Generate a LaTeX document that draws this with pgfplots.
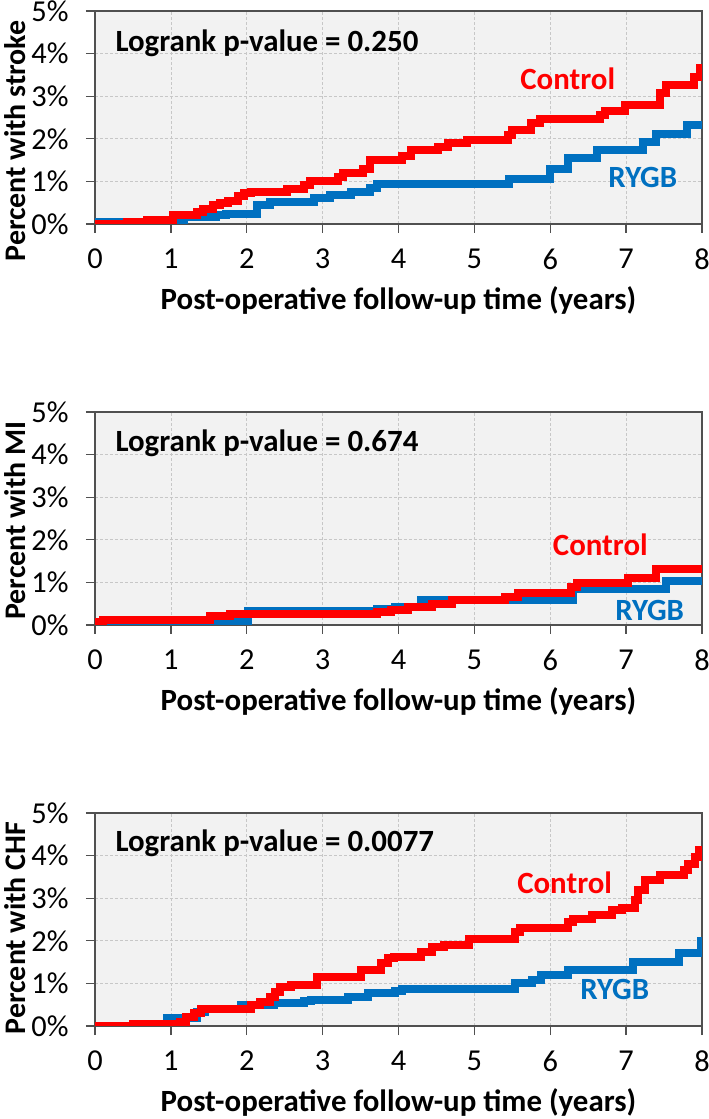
\documentclass[border=0pt]{standalone}
\usepackage{pgfplots}
\pgfplotsset{compat=1.18}
\usepackage{fontspec}
\setmainfont{Carlito}
\definecolor{ctrl}{RGB}{255,0,0}
\definecolor{rygb}{RGB}{0,112,192}
\definecolor{bgc}{RGB}{242,242,242}
\definecolor{framec}{RGB}{80,80,80}
\tikzset{note/.style={font=\bfseries\fontsize{31}{33}\selectfont}}
\pgfplotsset{
 km/.style={
  scale only axis, width=607bp, height=213bp,
  xmin=0,xmax=8,ymin=0,ymax=5,
  xtick={0,...,8}, ytick={0,...,5},
  yticklabel={\pgfmathprintnumber{\tick}\%},
  axis background/.style={fill=bgc},
  grid=major, major grid style={densely dashed, black!22, line width=0.6bp},
  axis line style={framec, line width=1.3bp},
  tick style={framec, line width=1.3bp},
  tick align=outside, major tick length=9bp, tick pos=left,
  /pgf/number format/assume math mode=true,
  tick label style={font=\fontsize{30.5}{32}\selectfont},
  yticklabel style={xshift=-14bp},
  xticklabel style={yshift=-12bp},
  xlabel style={font=\bfseries\fontsize{31}{33}\selectfont},
  ylabel style={font=\bfseries\fontsize{30}{32}\selectfont},
  xlabel={Post-operative follow-up time (years)},
  xlabel style={at={(axis description cs:0.5,0)}, anchor=center, yshift=-76bp},
  every axis plot/.append style={const plot, line width=8bp},
 },
}
\begin{document}
\begin{tikzpicture}
\path[use as bounding box] (0,0) rectangle (709bp,1119bp);
% ---------------- Stroke ----------------
\begin{axis}[km, at={(95bp,895bp)}, anchor=south west,
  ylabel={Percent with stroke},
  ylabel style={at={(axis description cs:-0.132,0.39)}, anchor=center}]
\addplot[rygb] coordinates {(0,0.05) (1.17,0.17) (1.6,0.2) (1.72,0.23) (2.14,0.45) (2.31,0.52) (2.89,0.6) (3.1,0.68) (3.37,0.76) (3.63,0.84) (3.72,0.95) (5.46,1.06) (6.0,1.3) (6.23,1.55) (6.62,1.74) (7.22,1.92) (7.4,2.12) (7.8,2.32) (8,2.32)};
\addplot[ctrl] coordinates {(0,0) (0.42,0.05) (0.68,0.1) (1.03,0.2) (1.34,0.27) (1.42,0.35) (1.55,0.45) (1.65,0.5) (1.75,0.55) (1.88,0.65) (1.97,0.72) (2.05,0.76) (2.53,0.82) (2.75,0.92) (2.84,1.0) (3.2,1.1) (3.27,1.2) (3.53,1.28) (3.62,1.5) (4.04,1.6) (4.17,1.73) (4.52,1.8) (4.65,1.9) (4.9,1.98) (5.44,2.1) (5.5,2.2) (5.75,2.36) (5.87,2.47) (6.65,2.57) (6.72,2.65) (6.99,2.8) (7.45,3.07) (7.52,3.27) (7.89,3.45) (7.97,3.65) (8,3.65)};
\node[note, anchor=west] at (axis cs:0.224,4.25) {Logrank p-value = 0.250};
\node[note, text=ctrl] at (axis cs:6.23,3.40) {Control};
\node[note, text=rygb] at (axis cs:7.22,1.10) {RYGB};
\end{axis}
% ---------------- MI ----------------
\begin{axis}[km, at={(95bp,494bp)}, anchor=south west,
  ylabel={Percent with MI},
  ylabel style={at={(axis description cs:-0.132,0.49)}, anchor=center}]
\addplot[rygb] coordinates {(0,0.03) (0.5,0.08) (2.02,0.33) (3.72,0.38) (3.95,0.42) (4.3,0.58) (6.3,0.84) (7.52,1.04) (8,1.04)};
\addplot[ctrl] coordinates {(0,0) (0.05,0.06) (0.11,0.12) (1.52,0.2) (1.78,0.25) (3.72,0.31) (3.9,0.36) (4.13,0.43) (4.44,0.5) (4.7,0.58) (5.4,0.66) (5.58,0.74) (6.28,0.9) (6.35,0.98) (7.03,1.1) (7.4,1.32) (8,1.32)};
\node[note, anchor=west] at (axis cs:0.224,4.27) {Logrank p-value = 0.674};
\node[note, text=ctrl] at (axis cs:6.66,1.88) {Control};
\node[note, text=rygb] at (axis cs:7.31,0.35) {RYGB};
\end{axis}
% ---------------- CHF ----------------
\begin{axis}[km, at={(95bp,93bp)}, anchor=south west,
  ylabel={Percent with CHF},
  ylabel style={at={(axis description cs:-0.132,0.46)}, anchor=center}]
\addplot[rygb] coordinates {(0,0) (0.95,0.18) (1.34,0.33) (1.45,0.41) (1.92,0.5) (2.36,0.54) (2.75,0.58) (2.85,0.62) (3.33,0.69) (3.6,0.77) (3.95,0.82) (4.05,0.88) (5.54,1.0) (5.76,1.09) (5.88,1.2) (6.24,1.31) (7.09,1.5) (7.7,1.72) (7.99,2.0) (8,2.0)};
\addplot[ctrl] coordinates {(0,0) (0.5,0.04) (1.12,0.1) (1.2,0.2) (1.3,0.3) (1.4,0.41) (2.05,0.49) (2.18,0.57) (2.3,0.69) (2.37,0.8) (2.44,0.92) (2.58,0.97) (2.93,1.16) (3.5,1.31) (3.77,1.47) (3.86,1.59) (3.94,1.63) (4.3,1.74) (4.44,1.86) (4.6,1.9) (4.93,2.05) (5.54,2.21) (5.6,2.29) (6.24,2.45) (6.3,2.52) (6.55,2.6) (6.81,2.72) (6.95,2.78) (7.12,2.95) (7.16,3.19) (7.25,3.42) (7.45,3.54) (7.76,3.66) (7.82,3.8) (7.91,3.97) (7.96,4.12) (8,4.12)};
\node[note, anchor=west] at (axis cs:0.224,4.30) {Logrank p-value = 0.0077};
\node[note, text=ctrl] at (axis cs:6.19,3.36) {Control};
\node[note, text=rygb] at (axis cs:6.85,0.85) {RYGB};
\end{axis}
\end{tikzpicture}
\end{document}
